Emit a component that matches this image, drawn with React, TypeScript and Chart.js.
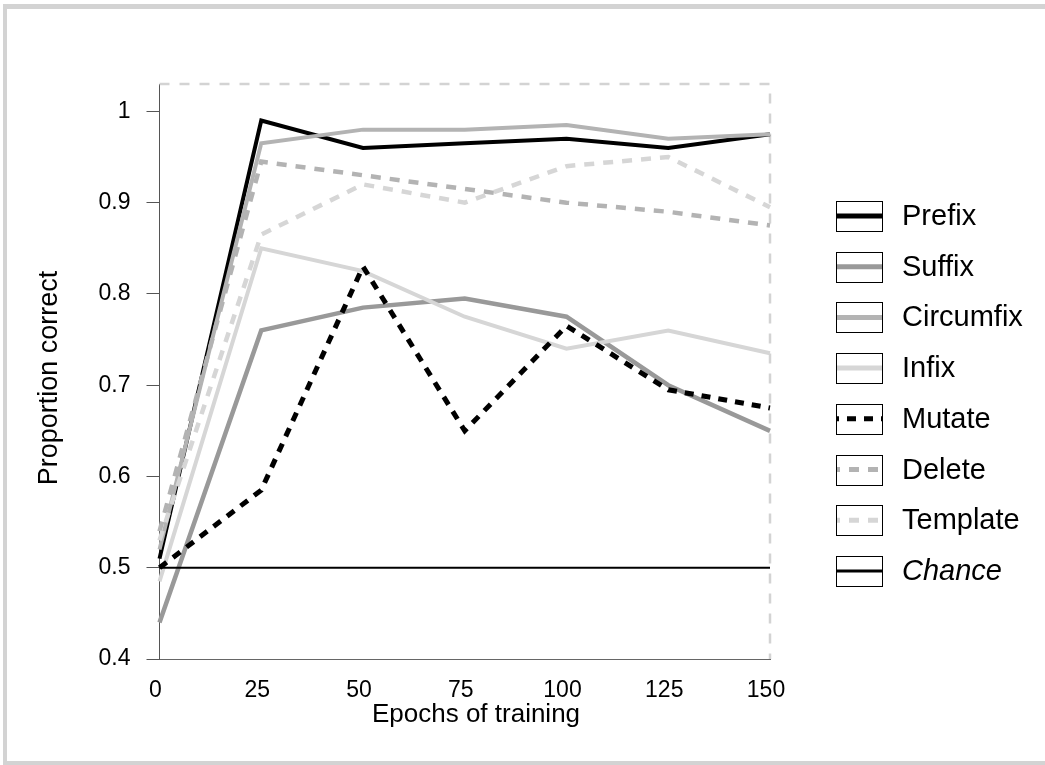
import React, { useEffect, useRef } from "react";
import { Chart, registerables } from "chart.js";

Chart.register(...registerables);

const epochs = [0, 25, 50, 75, 100, 125, 150];
const prefix = [0.51, 0.99, 0.96, 0.965, 0.97, 0.96, 0.975];
const suffix = [0.44, 0.76, 0.785, 0.795, 0.775, 0.70, 0.65];
const circumfix = [0.52, 0.965, 0.98, 0.98, 0.985, 0.97, 0.975];
const infix = [0.485, 0.85, 0.825, 0.775, 0.74, 0.76, 0.735];
const mutate = [0.50, 0.585, 0.83, 0.65, 0.765, 0.695, 0.675];
const deleteVals = [0.54, 0.945, 0.93, 0.915, 0.90, 0.89, 0.875];
const template = [0.53, 0.865, 0.92, 0.90, 0.94, 0.95, 0.895];
const chanceLevel = 0.5;

const xTickValues = [0, 25, 50, 75, 100, 125, 150];
const yTickValues = [0.4, 0.5, 0.6, 0.7, 0.8, 0.9, 1];

const seriesNames = ["Prefix", "Suffix", "Circumfix", "Infix", "Mutate", "Delete", "Template", "Chance"];
const seriesColors = ["#000000", "#999999", "#b3b3b3", "#d6d6d6", "#000000", "#b3b3b3", "#d6d6d6", "#000000"];
const seriesWidths = [4, 4.5, 4, 4, 5, 4.5, 4.5, 2];
const seriesDashes: number[][] = [[], [], [], [], [9, 8], [10, 9], [10, 9], []];

const FONT = "'Liberation Sans', Arial, sans-serif";

const framePlugin = {
  id: "framePlugin",
  beforeDatasetsDraw(chart: any) {
    const { ctx, chartArea } = chart;
    ctx.save();
    ctx.strokeStyle = "#d3d3d3";
    ctx.lineWidth = 2.5;
    ctx.setLineDash([10, 10]);
    ctx.beginPath();
    ctx.moveTo(chartArea.left, chartArea.top);
    ctx.lineTo(chartArea.right, chartArea.top);
    ctx.lineTo(chartArea.right, chartArea.bottom);
    ctx.stroke();
    ctx.restore();
  },
  afterDraw(chart: any) {
    const { ctx, chartArea } = chart;
    ctx.save();
    // axis titles
    ctx.fillStyle = "#000";
    ctx.font = `26px ${FONT}`;
    ctx.textAlign = "center";
    ctx.textBaseline = "middle";
    ctx.fillText("Epochs of training", 476, 715);
    ctx.save();
    ctx.font = `27px ${FONT}`;
    ctx.translate(50, 378);
    ctx.rotate(-Math.PI / 2);
    ctx.fillText("Proportion correct", 0, 0);
    ctx.restore();

    // legend
    const boxX = 836;
    const boxW = 46;
    const boxH = 30;
    const top0 = 201;
    const step = 50.7;
    seriesNames.forEach((name, i) => {
      const y = top0 + i * step;
      const cy = y + boxH / 2;
      ctx.save();
      ctx.beginPath();
      ctx.rect(boxX, y, boxW, boxH);
      ctx.clip();
      ctx.strokeStyle = seriesColors[i];
      ctx.lineWidth = i === 7 ? 3 : 5;
      ctx.setLineDash(seriesDashes[i]);
      ctx.lineDashOffset = 6;
      ctx.beginPath();
      ctx.moveTo(boxX, cy);
      ctx.lineTo(boxX + boxW, cy);
      ctx.stroke();
      ctx.restore();
      ctx.strokeStyle = "#000";
      ctx.lineWidth = 1;
      ctx.setLineDash([]);
      ctx.strokeRect(Math.round(boxX) + 0.5, Math.round(y) + 0.5, boxW, boxH);
      ctx.fillStyle = "#000";
      ctx.textAlign = "left";
      ctx.textBaseline = "middle";
      ctx.font = `${i === 7 ? "italic " : ""}29px ${FONT}`;
      ctx.fillText(name, 902, cy + 1);
    });
    ctx.restore();
  },
};

export default function App() {
  const canvasRef = useRef<HTMLCanvasElement | null>(null);

  useEffect(() => {
    const canvas = canvasRef.current;
    if (!canvas) return;
    const allValues = [prefix, suffix, circumfix, infix, mutate, deleteVals, template];
    const datasets: any[] = allValues.map((vals, i) => ({
      label: seriesNames[i],
      data: vals.map((v, j) => ({ x: epochs[j], y: v })),
      borderColor: seriesColors[i],
      borderWidth: seriesWidths[i],
      borderDash: seriesDashes[i],
      borderCapStyle: "butt",
      borderJoinStyle: "miter",
      pointRadius: 0,
      tension: 0,
      fill: false,
      order: 10 - i,
    }));
    datasets.push({
      label: seriesNames[7],
      data: [
        { x: epochs[0], y: chanceLevel },
        { x: epochs[epochs.length - 1], y: chanceLevel },
      ],
      borderColor: seriesColors[7],
      borderWidth: seriesWidths[7],
      pointRadius: 0,
      tension: 0,
      fill: false,
      order: 0,
    });

    const chart = new Chart(canvas, {
      type: "line",
      data: { datasets },
      plugins: [framePlugin],
      options: {
        animation: false,
        responsive: false,
        devicePixelRatio: 1,
        clip: false as any,
        layout: { padding: { left: 0, top: 84, right: 275, bottom: 0 } },
        plugins: { legend: { display: false }, tooltip: { enabled: false } },
        scales: {
          x: {
            type: "linear",
            min: 0,
            max: 150,
            afterFit: (s: any) => {
              s.height = 106;
            },
            afterBuildTicks: (s: any) => {
              s.ticks = xTickValues.map((v) => ({ value: v }));
            },
            grid: { display: true, drawOnChartArea: false, drawTicks: false },
            border: { display: true, color: "#666", width: 1 },
            ticks: {
              color: "#000",
              font: { family: FONT, size: 23 },
              padding: 18,
              labelOffset: -4,
              maxRotation: 0,
              autoSkip: false,
            },
          },
          y: {
            type: "linear",
            min: 0.4,
            max: 1.03,
            afterFit: (s: any) => {
              s.width = 159.5;
            },
            afterBuildTicks: (s: any) => {
              s.ticks = yTickValues.map((v) => ({ value: v }));
            },
            grid: { display: true, drawOnChartArea: false, drawTicks: true, tickLength: 13, color: "#555" },
            border: { display: true, color: "#555", width: 1 },
            ticks: {
              color: "#000",
              font: { family: FONT, size: 23 },
              padding: 16,
              autoSkip: false,
              callback: (v: any) => (v === 1 ? "1" : Number(v).toFixed(1)),
            },
          },
        },
      },
    });
    return () => chart.destroy();
  }, []);

  return (
    <div>
      <div
        style={{
          position: "fixed",
          left: 3,
          top: 4,
          width: 1100,
          height: 761,
          boxSizing: "border-box",
          borderTop: "5px solid #d3d3d3",
          borderLeft: "4px solid #d3d3d3",
          borderBottom: "4px solid #d3d3d3",
        }}
      />
      <canvas
        ref={canvasRef}
        width={1045}
        height={765}
        style={{ position: "fixed", left: 0, top: 0, width: 1045, height: 765 }}
      />
    </div>
  );
}
